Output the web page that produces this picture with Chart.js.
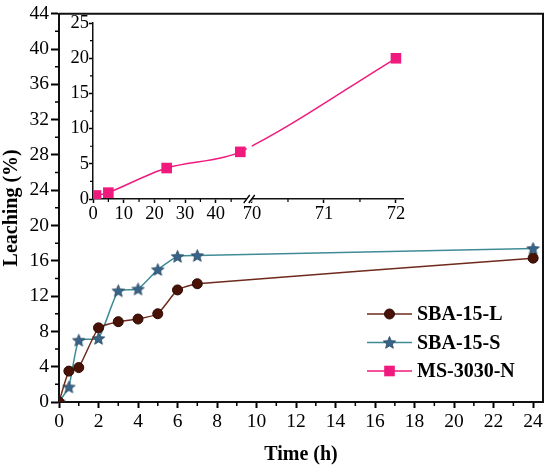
<!DOCTYPE html>
<html>
<head>
<meta charset="utf-8">
<script src="https://cdn.jsdelivr.net/npm/chart.js@4.4.0/dist/chart.umd.min.js"></script>
<style>
    html, body { margin: 0; padding: 0; background: #fff; }
    #wrap { position: relative; width: 550px; height: 470px; }
    #mainChart { position: absolute; left: 0; top: 0; }
    #insetChart { position: absolute; left: 62px; top: 12px; }
</style>
</head>
<body>
<div id="wrap">
    <canvas id="mainChart" width="550" height="470"></canvas>
    <canvas id="insetChart" width="350" height="213"></canvas>
</div>
<script>
// main plot data
let timeHours = [0, 0.5, 1, 2, 3, 4, 5, 6, 7, 24];
let leachingL = [0, 3.5, 3.9, 8.4, 9.1, 9.4, 10.0, 12.7, 13.4, 16.3];
let leachingS = [0, 1.7, 7.0, 7.2, 12.6, 12.8, 15.0, 16.5, 16.6, 17.4];

// inset data
let insetHours = [1, 5, 24, 48, 72];
let leachingN = [0.5, 0.9, 4.4, 6.7, 20.0];

// tick labels
let timeTicks = [0, 2, 4, 6, 8, 10, 12, 14, 16, 18, 20, 22, 24];
let leachingTicks = [0, 4, 8, 12, 16, 20, 24, 28, 32, 36, 40, 44];
let insetTimeTicks = [0, 10, 20, 30, 40, 70, 71, 72];
let insetTimeMinor = [5, 15, 25, 35, 45, 70.5, 71.5];
let insetLeachTicks = [0, 5, 10, 15, 20, 25];

let seriesNames = ["SBA-15-L", "SBA-15-S", "MS-3030-N"];

const FONT = "'Liberation Serif', 'Times New Roman', serif";

// broken inset axis: 0-50 h, then 70-72 h stretched
let breakFrom = 50, breakTo = 70, breakGap = 1.8, hourStretch = 23.45;
function toAxis(h) {
    return h <= breakFrom ? h : breakFrom + breakGap + (h - breakTo) * hourStretch;
}
function fromAxis(v) {
    return v <= breakFrom ? v : breakTo + (v - breakFrom - breakGap) / hourStretch;
}

function makeStar(r, fill, stroke) {
    let c = document.createElement("canvas");
    let s = Math.ceil(r * 2 + 2);
    c.width = s;
    c.height = s;
    let g = c.getContext("2d");
    g.beginPath();
    for (let i = 0; i < 10; i++) {
        let rad = i % 2 === 0 ? r : r * 0.45;
        let a = -Math.PI / 2 + i * Math.PI / 5;
        g.lineTo(s / 2 + rad * Math.cos(a), s / 2 + rad * Math.sin(a) + 0.5);
    }
    g.closePath();
    g.fillStyle = fill;
    g.fill();
    g.strokeStyle = stroke;
    g.lineWidth = 0.8;
    g.stroke();
    return c;
}

let styles = [
    { line: "#6e2a1c", fill: "#4a1206", border: "#2c0904", point: "circle", radius: 5 },
    { line: "#3f8c96", fill: "#3a6488", border: "#24465f", point: makeStar(6.5, "#3a6488", "#24465f"), radius: 6 },
    { line: "#f0197d", fill: "#f0197d", border: "#e0106f", point: "rect", radius: 7.5 }
];

function midpoints(ticks) {
    let out = [];
    for (let i = 0; i < ticks.length - 1; i++) out.push((ticks[i] + ticks[i + 1]) / 2);
    return out;
}

// short minor ticks outside the axes
const minorTicks = {
    id: "minorTicks",
    afterDraw(chart, args, opts) {
        const ctx = chart.ctx;
        const area = chart.chartArea;
        ctx.save();
        ctx.strokeStyle = "#000";
        ctx.lineWidth = opts.width;
        ctx.beginPath();
        for (const v of opts.x) {
            let px = chart.scales.x.getPixelForValue(v);
            ctx.moveTo(px, area.bottom);
            ctx.lineTo(px, area.bottom + opts.length);
        }
        for (const v of opts.y) {
            let py = chart.scales.y.getPixelForValue(v);
            ctx.moveTo(area.left, py);
            ctx.lineTo(area.left - opts.length, py);
        }
        ctx.stroke();
        ctx.restore();
    }
};

// top and right frame of the main plot
const frame = {
    id: "frame",
    afterDraw(chart) {
        const ctx = chart.ctx;
        const a = chart.chartArea;
        ctx.save();
        ctx.strokeStyle = "#111";
        ctx.lineWidth = 2;
        ctx.beginPath();
        ctx.moveTo(a.left, a.top);
        ctx.lineTo(a.right, a.top);
        ctx.lineTo(a.right, a.bottom);
        ctx.stroke();
        ctx.restore();
    }
};

const lineLegend = {
    id: "lineLegend",
    afterDraw(chart, args, opts) {
        const ctx = chart.ctx;
        ctx.save();
        for (let i = 0; i < opts.names.length; i++) {
            let st = opts.styles[i];
            let y = opts.y + i * opts.spacing;
            ctx.strokeStyle = st.line;
            ctx.lineWidth = 1.5;
            ctx.beginPath();
            ctx.moveTo(opts.x, y);
            ctx.lineTo(opts.x + opts.lineLength, y);
            ctx.stroke();
            let cx = opts.x + opts.lineLength / 2;
            if (st.point === "circle") {
                ctx.beginPath();
                ctx.arc(cx, y, st.radius, 0, Math.PI * 2);
                ctx.fillStyle = st.fill;
                ctx.fill();
                ctx.strokeStyle = st.border;
                ctx.lineWidth = 1;
                ctx.stroke();
            } else if (st.point === "rect") {
                let h = st.radius * Math.SQRT1_2;
                ctx.fillStyle = st.fill;
                ctx.fillRect(cx - h, y - h, h * 2, h * 2);
            } else {
                ctx.drawImage(st.point, cx - st.point.width / 2, y - st.point.height / 2);
            }
            ctx.fillStyle = "#000";
            ctx.font = "bold 20px " + FONT;
            ctx.textBaseline = "middle";
            ctx.fillText(opts.names[i], opts.x + opts.lineLength + 5, y + 1);
        }
        ctx.restore();
    }
};

function makeDataset(label, xs, ys, st, tension) {
    return {
        label: label,
        data: xs.map((x, i) => ({ x: x, y: ys[i] })),
        borderColor: st.line,
        borderWidth: 1.5,
        backgroundColor: st.fill,
        pointBackgroundColor: st.fill,
        pointBorderColor: st.border,
        pointBorderWidth: 1,
        pointStyle: st.point,
        pointRadius: st.radius,
        tension: tension
    };
}

function axisGrid(len, width) {
    return { drawOnChartArea: false, drawTicks: true, tickLength: len, tickWidth: width, tickColor: "#000" };
}

new Chart(document.querySelector("#mainChart"), {
    type: "line",
    data: {
        datasets: [
            makeDataset(seriesNames[0], timeHours, leachingL, styles[0], 0.15),
            makeDataset(seriesNames[1], timeHours, leachingS, styles[1], 0.15)
        ]
    },
    options: {
        responsive: false,
        animation: false,
        layout: { padding: { left: 0, top: 9, right: 5, bottom: 0 } },
        plugins: {
            legend: { display: false },
            tooltip: { enabled: false },
            minorTicks: { x: midpoints(timeTicks), y: midpoints(leachingTicks), length: 4, width: 1.5 },
            lineLegend: { names: seriesNames, styles: styles, x: 367, y: 314, spacing: 28.5, lineLength: 45 }
        },
        scales: {
            x: {
                type: "linear",
                min: 0,
                max: 24.5,
                afterBuildTicks: (scale) => { scale.ticks = timeTicks.map(v => ({ value: v })); },
                afterFit: (scale) => { scale.height = 68; },
                border: { color: "#111", width: 2 },
                grid: axisGrid(6, 2),
                ticks: { color: "#000", font: { family: FONT, size: 19.5 }, padding: 2, maxRotation: 0, autoSkip: false },
                title: { display: true, text: "Time (h)", color: "#000", font: { family: FONT, size: 20, weight: "bold" }, padding: { top: 0, bottom: 3 } }
            },
            y: {
                min: 0,
                max: 44,
                afterBuildTicks: (scale) => { scale.ticks = leachingTicks.map(v => ({ value: v })); },
                afterFit: (scale) => { scale.width = 59; },
                border: { color: "#111", width: 2 },
                grid: axisGrid(8, 2),
                ticks: { color: "#000", font: { family: FONT, size: 19.5 }, padding: 2, autoSkip: false },
                title: { display: true, text: "Leaching (%)", color: "#000", font: { family: FONT, size: 20, weight: "bold" }, padding: 0 }
            }
        }
    },
    plugins: [minorTicks, frame, lineLegend]
});

// white gap and // marks where the inset axis is broken
const axisBreak = {
    id: "axisBreak",
    afterDraw(chart) {
        const ctx = chart.ctx;
        const a = chart.chartArea;
        let px = chart.scales.x.getPixelForValue(breakFrom + breakGap / 2);
        ctx.save();
        ctx.fillStyle = "#fff";
        ctx.fillRect(px - 2.5, a.top, 5, a.bottom - a.top + 3);
        ctx.strokeStyle = "#000";
        ctx.lineWidth = 1.3;
        ctx.beginPath();
        for (const dx of [-2.5, 2.5]) {
            ctx.moveTo(px + dx - 3, a.bottom + 4);
            ctx.lineTo(px + dx + 3, a.bottom - 4);
        }
        ctx.stroke();
        ctx.restore();
    }
};

let insetDataset = makeDataset(seriesNames[2], insetHours.map(toAxis), leachingN, styles[2], 0.3);
insetDataset.pointBorderWidth = 0;

new Chart(document.querySelector("#insetChart"), {
    type: "line",
    data: { datasets: [insetDataset] },
    options: {
        responsive: false,
        animation: false,
        layout: { padding: { left: 0, top: 11, right: 9, bottom: 0 } },
        plugins: {
            legend: { display: false },
            tooltip: { enabled: false },
            minorTicks: { x: insetTimeMinor.map(toAxis), y: midpoints(insetLeachTicks), length: 3, width: 1.2 }
        },
        scales: {
            x: {
                type: "linear",
                min: 0,
                max: 101,
                afterBuildTicks: (scale) => { scale.ticks = insetTimeTicks.map(h => ({ value: toAxis(h) })); },
                afterFit: (scale) => { scale.height = 26; },
                border: { color: "#111", width: 1.5 },
                grid: axisGrid(4, 1.5),
                ticks: {
                    color: "#000", font: { family: FONT, size: 18.5 }, padding: 0, maxRotation: 0, autoSkip: false,
                    callback: (value) => Math.round(fromAxis(value))
                }
            },
            y: {
                min: 0,
                max: 25,
                afterBuildTicks: (scale) => { scale.ticks = insetLeachTicks.map(v => ({ value: v })); },
                afterFit: (scale) => { scale.width = 31; },
                border: { color: "#111", width: 1.5 },
                grid: axisGrid(4, 1.5),
                ticks: { color: "#000", font: { family: FONT, size: 18.5 }, padding: 0, autoSkip: false }
            }
        }
    },
    plugins: [minorTicks, axisBreak]
});
</script>
</body>
</html>
